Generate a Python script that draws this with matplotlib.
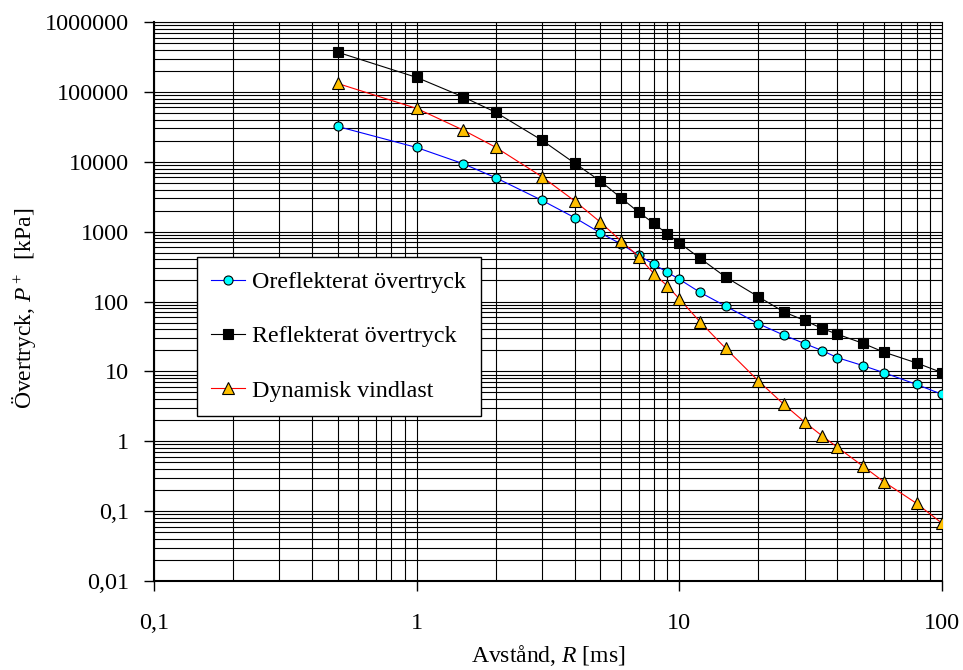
import matplotlib
matplotlib.use('Agg')
import matplotlib.pyplot as plt
from matplotlib.ticker import LogLocator, FuncFormatter, NullFormatter

plt.rcParams['font.family'] = ['Liberation Serif', 'DejaVu Serif']
plt.rcParams['mathtext.fontset'] = 'custom'
plt.rcParams['mathtext.rm'] = 'Liberation Serif'
plt.rcParams['mathtext.it'] = 'Liberation Serif:italic'

# avstånd R [ms]
R = [0.5, 1, 1.5, 2, 3, 4, 5, 6, 7, 8, 9, 10, 12, 15, 20, 25, 30, 35, 40, 50, 60, 80, 100]

# övertryck [kPa]
oreflekterat = [32000, 16000, 9400, 5900, 2800, 1580, 960, 665, 460, 340, 262, 208,
                135, 86, 48, 33, 25, 19.8, 15.7, 12.1, 9.6, 6.5, 4.7]
reflekterat = [370000, 161000, 85000, 51000, 20300, 9500, 5300, 3030, 1900, 1310, 925, 690,
               415, 224, 117, 71, 53.5, 41, 34, 25.2, 18.9, 13.2, 9.6]
vindlast = [132000, 58000, 28500, 16100, 6100, 2740, 1370, 735, 440, 250, 167, 109,
            51, 21.4, 7.3, 3.37, 1.88, 1.19, 0.82, 0.44, 0.264, 0.129, 0.067]


def komma(v, pos):
    s = '%g' % v
    if 'e' in s:
        s = '%d' % round(v)
    return s.replace('.', ',')


fig = plt.figure(figsize=(9.63, 6.70), dpi=100)
ax = fig.add_axes([154 / 963, 89 / 670, 788 / 963, 559 / 670])

ax.plot(R, oreflekterat, color='blue', lw=0.8, marker='o', ms=6.5, mfc='cyan', mec='black',
        mew=0.8, label='Oreflekterat övertryck', zorder=5)
ax.plot(R, reflekterat, color='black', lw=0.8, marker='s', ms=7, mfc='black', mec='black',
        mew=0.8, label='Reflekterat övertryck', zorder=5)
ax.plot(R, vindlast, color='red', lw=0.8, marker='^', ms=8.5, mfc='#ffc000', mec='black',
        mew=0.8, label='Dynamisk vindlast', zorder=5)

ax.set_xscale('log')
ax.set_yscale('log')
ax.set_xlim(0.1, 100)
ax.set_ylim(0.01, 1000000)

ax.xaxis.set_major_locator(LogLocator(base=10, numticks=10))
ax.yaxis.set_major_locator(LogLocator(base=10, numticks=12))
ax.xaxis.set_minor_locator(LogLocator(base=10, subs=range(2, 10), numticks=20))
ax.yaxis.set_minor_locator(LogLocator(base=10, subs=range(2, 10), numticks=20))
ax.xaxis.set_major_formatter(FuncFormatter(komma))
ax.yaxis.set_major_formatter(FuncFormatter(komma))
ax.xaxis.set_minor_formatter(NullFormatter())
ax.yaxis.set_minor_formatter(NullFormatter())

ax.grid(True, which='both', color='black', lw=0.8)
ax.set_axisbelow(True)

ax.tick_params(which='major', direction='out', length=7, width=1, labelsize=17.5)
ax.tick_params(axis='x', which='major', pad=16)
ax.tick_params(axis='y', which='major', pad=11)
ax.tick_params(which='minor', length=0)

for s in ['left', 'bottom']:
    ax.spines[s].set_linewidth(1.5)
for s in ['top', 'right']:
    ax.spines[s].set_linewidth(0.8)

ax.set_xlabel(r'Avstånd, $R$ [ms]', fontsize=17, va='center')
ax.set_ylabel(r'Övertryck, $P^+$  [kPa]', fontsize=17, va='center')
ax.xaxis.set_label_coords(0.5, (581 - 656) / 559)
ax.yaxis.set_label_coords((24 - 154) / 788, (581 - 308) / 559)

leg = ax.legend(loc='upper left', bbox_to_anchor=(0.0546, 0.58), fontsize=17.3,
                frameon=True, fancybox=False, edgecolor='black', framealpha=1,
                handlelength=1.4, handletextpad=0.3, labelspacing=1.35,
                borderpad=0.6, borderaxespad=0)
leg.get_frame().set_linewidth(1.0)

fig.savefig('out.png', dpi=100)
